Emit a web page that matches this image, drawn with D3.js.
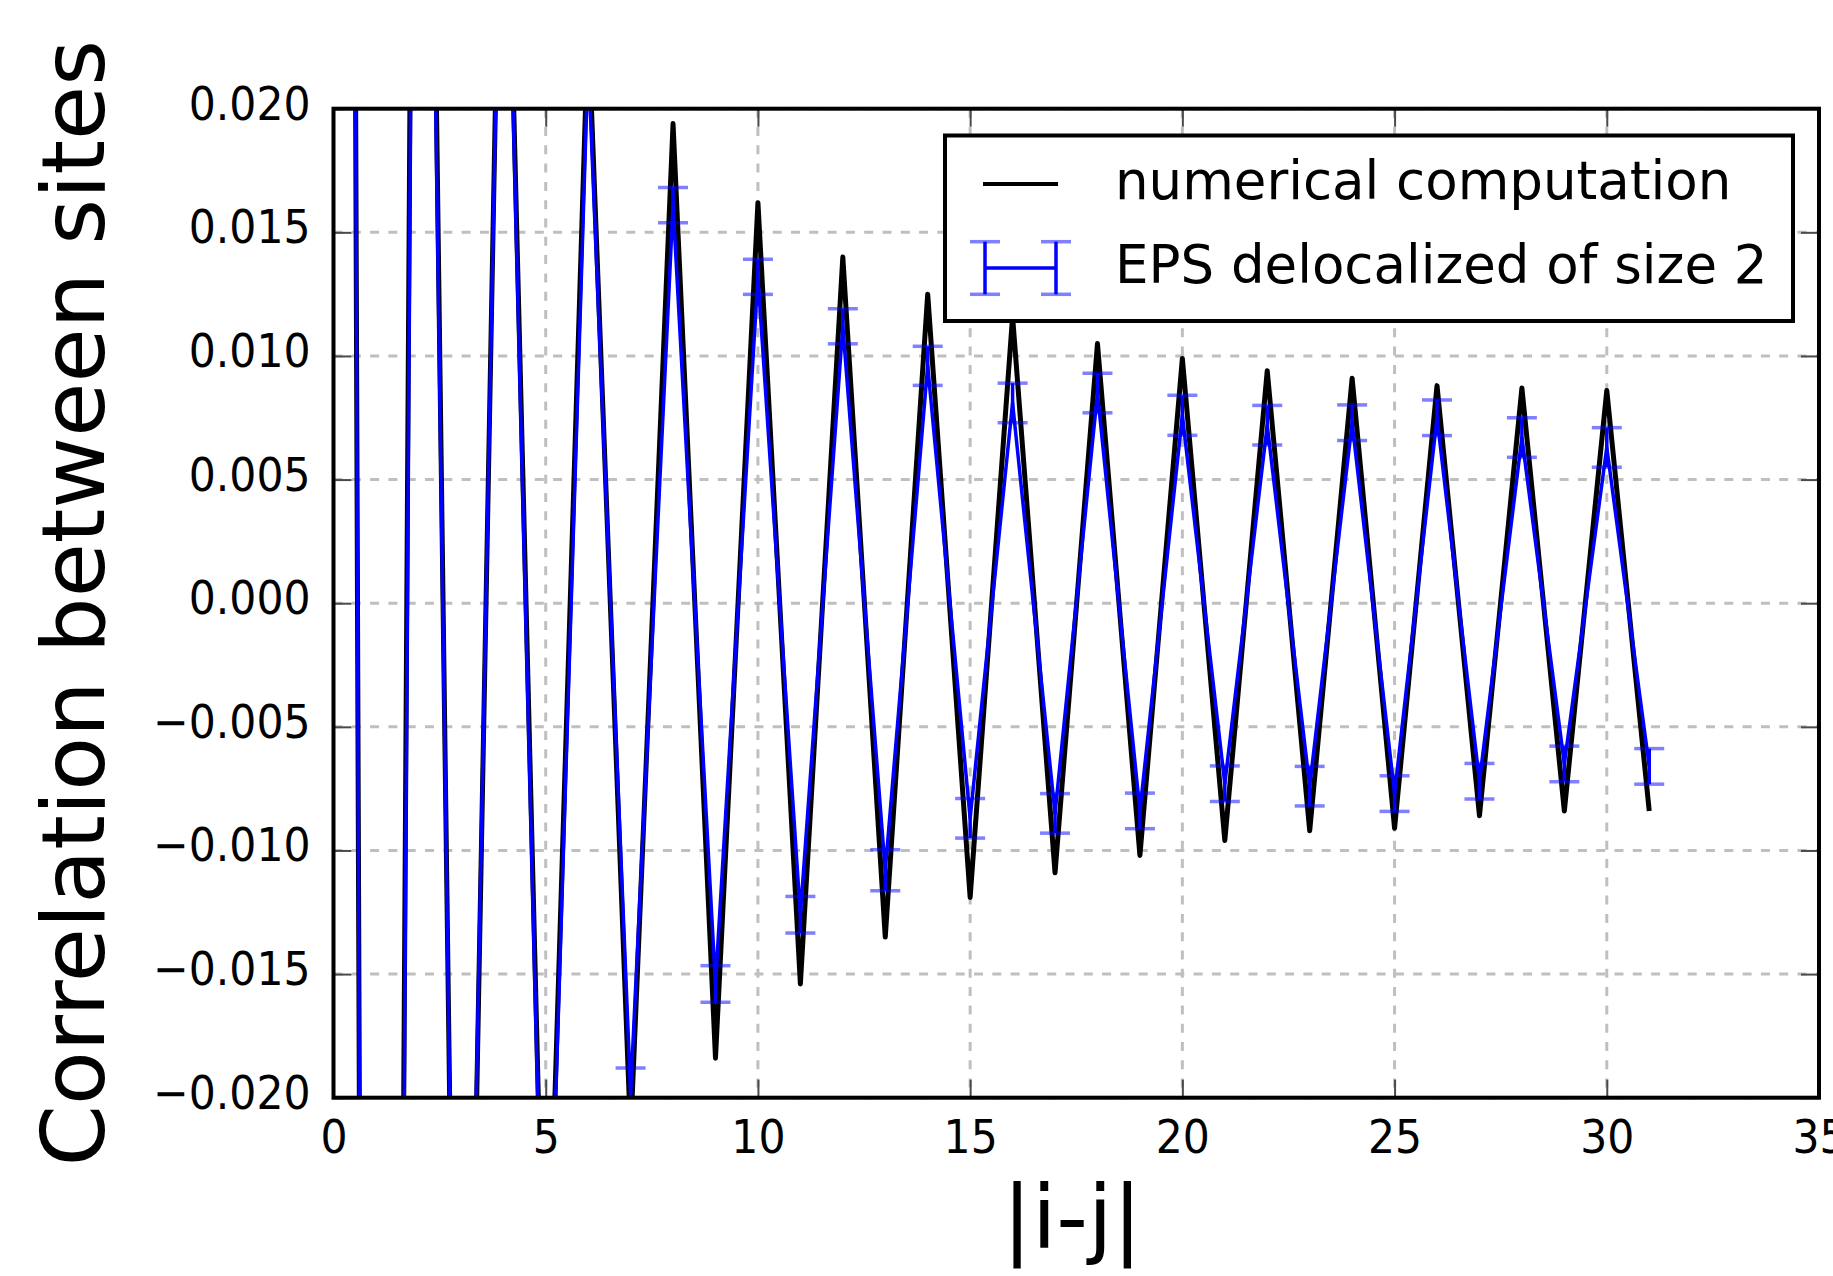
<!DOCTYPE html>
<html>
<head>
<meta charset="utf-8">
<script src="https://cdn.jsdelivr.net/npm/d3@7"></script>
<style>
  html, body { margin: 0; padding: 0; background: #ffffff; }
  svg { display: block; }
  text { font-family: "DejaVu Sans", "Liberation Sans", sans-serif; fill: #000; }
</style>
</head>
<body>
<svg id="chart" width="1833" height="1276"></svg>
<script>
// Site separation |i-j|
const distances = [0, 1, 2, 3, 4, 5, 6, 7, 8, 9, 10, 11, 12, 13, 14, 15,
                   16, 17, 18, 19, 20, 21, 22, 23, 24, 25, 26, 27, 28, 29, 30, 31];

// Exact correlation from the numerical computation
const numerical = [0.26, -0.20, 0.075, -0.054, 0.037, -0.032, 0.0235, -0.0215,
                   0.0194, -0.0184, 0.0162, -0.0154, 0.0140, -0.0135, 0.0125, -0.0119,
                   0.0116, -0.0109, 0.0105, -0.0102, 0.0099, -0.0096, 0.0094, -0.0092,
                   0.0091, -0.0091, 0.0088, -0.0086, 0.0087, -0.0084, 0.0086, -0.0084];

// EPS estimate (delocalized plaquettes of size 2) and its statistical error
const epsMean = [0.26, -0.20, 0.070, -0.052, 0.036, -0.033, 0.022, -0.0198,
                 0.0161, -0.0154, 0.0132, -0.0126, 0.0112, -0.0108, 0.0096, -0.0087,
                 0.0081, -0.0085, 0.0085, -0.0084, 0.0076, -0.0073, 0.0072, -0.0074,
                 0.0073, -0.0077, 0.0075, -0.0072, 0.0067, -0.0065, 0.0063, -0.0066];
const epsError = [0.0008, 0.0008, 0.0008, 0.0008, 0.0008, 0.0008, 0.0008, 0.0010,
                  0.00071, 0.00074, 0.00071, 0.00074, 0.00071, 0.00083, 0.00079, 0.0008,
                  0.0008, 0.0008, 0.0008, 0.00072, 0.00081, 0.00072, 0.0008, 0.0008,
                  0.00072, 0.00072, 0.00072, 0.00072, 0.0008, 0.00072, 0.0008, 0.00072];

// Axis ticks
const xTicks = [0, 5, 10, 15, 20, 25, 30, 35];
const yTicks = [-0.020, -0.015, -0.010, -0.005, 0.000, 0.005, 0.010, 0.015, 0.020];

const seriesLabels = ["numerical computation", "EPS delocalized of size 2"];
const xLabel = "|i-j|";
const yLabel = "Correlation between sites";

const svg = d3.select("#chart");
const plot = { left: 333.5, right: 1819, top: 108.7, bottom: 1097.7 };

const x = d3.scaleLinear().domain([0, 35]).range([plot.left, plot.right]);
const y = d3.scaleLinear().domain([-0.020, 0.020]).range([plot.bottom, plot.top]);

svg.append("defs").append("clipPath").attr("id", "plotClip")
  .append("rect")
  .attr("x", plot.left).attr("y", plot.top)
  .attr("width", plot.right - plot.left).attr("height", plot.bottom - plot.top);

// Dashed grid
const grid = svg.append("g").attr("class", "grid")
  .attr("stroke", "#bfbfbf").attr("stroke-width", 3).attr("stroke-dasharray", "9,9.3");
grid.selectAll("line.gx").data(xTicks).join("line").attr("class", "gx")
  .attr("x1", d => x(d)).attr("x2", d => x(d))
  .attr("y1", plot.top).attr("y2", plot.bottom);
grid.selectAll("line.gy").data(yTicks).join("line").attr("class", "gy")
  .attr("x1", plot.left).attr("x2", plot.right)
  .attr("y1", d => y(d)).attr("y2", d => y(d));

// Data
const dataLayer = svg.append("g").attr("clip-path", "url(#plotClip)");
const numPts = distances.map((d, i) => [d, numerical[i]]);
const epsPts = distances.map((d, i) => ({ k: d, v: epsMean[i], e: epsError[i] }));
const line = d3.line().x(d => x(d[0])).y(d => y(d[1]));

dataLayer.append("path").datum(numPts)
  .attr("d", line).attr("fill", "none")
  .attr("stroke", "#000").attr("stroke-width", 5).attr("stroke-linejoin", "round");

dataLayer.append("path").datum(epsPts.map(p => [p.k, p.v]))
  .attr("d", line).attr("fill", "none")
  .attr("stroke", "#0000ff").attr("stroke-width", 3.5).attr("stroke-linejoin", "round");

const bars = dataLayer.append("g");
bars.selectAll("line.bar").data(epsPts).join("line").attr("class", "bar")
  .attr("x1", d => x(d.k)).attr("x2", d => x(d.k))
  .attr("y1", d => y(d.v - d.e)).attr("y2", d => y(d.v + d.e))
  .attr("stroke", "#0000ff").attr("stroke-width", 3.5);
const capHalf = 15;
["lo", "hi"].forEach(side => {
  bars.selectAll("line.cap-" + side).data(epsPts).join("line").attr("class", "cap-" + side)
    .attr("x1", d => x(d.k) - capHalf).attr("x2", d => x(d.k) + capHalf)
    .attr("y1", d => y(side === "lo" ? d.v - d.e : d.v + d.e))
    .attr("y2", d => y(side === "lo" ? d.v - d.e : d.v + d.e))
    .attr("stroke", "#0000ff").attr("stroke-opacity", 0.5).attr("stroke-width", 3.5);
});

// Axes with inward ticks on all four sides
const tickLen = 18;
function styleAxis(g) {
  g.select(".domain").remove();
  g.selectAll(".tick line").attr("stroke", "#4a4a4a").attr("stroke-width", 2);
  return g;
}
const tickFont = 46.5, tickSqueeze = 0.915;

const gBottom = svg.append("g").attr("transform", `translate(0,${plot.bottom})`)
  .call(d3.axisBottom(x).tickValues(xTicks).tickSize(-tickLen).tickFormat(d3.format("d")));
styleAxis(gBottom);
gBottom.selectAll(".tick text")
  .attr("x", 0).attr("y", 0).attr("dy", null)
  .attr("transform", `translate(0,55.5) scale(${tickSqueeze},1)`)
  .attr("font-size", tickFont).attr("fill", "#000");

const gTop = svg.append("g").attr("transform", `translate(0,${plot.top})`)
  .call(d3.axisTop(x).tickValues(xTicks).tickSize(-tickLen).tickFormat(""));
styleAxis(gTop);

const gLeft = svg.append("g").attr("transform", `translate(${plot.left},0)`)
  .call(d3.axisLeft(y).tickValues(yTicks).tickSize(-tickLen).tickFormat(d3.format(".3f")));
styleAxis(gLeft);
gLeft.selectAll(".tick text")
  .attr("x", 0).attr("y", 0).attr("dy", null)
  .attr("transform", `translate(-23,10.5) scale(${tickSqueeze},1)`)
  .attr("text-anchor", "end")
  .attr("font-size", tickFont).attr("fill", "#000");

const gRight = svg.append("g").attr("transform", `translate(${plot.right},0)`)
  .call(d3.axisRight(y).tickValues(yTicks).tickSize(-tickLen).tickFormat(""));
styleAxis(gRight);

svg.selectAll(".tick text").attr("font-family", "'DejaVu Sans', sans-serif");

// Frame
svg.append("rect")
  .attr("x", plot.left).attr("y", plot.top)
  .attr("width", plot.right - plot.left).attr("height", plot.bottom - plot.top)
  .attr("fill", "none").attr("stroke", "#000").attr("stroke-width", 4);

// Axis titles
svg.append("text")
  .attr("transform", `translate(104,${(plot.top + plot.bottom) / 2}) rotate(-90)`)
  .attr("text-anchor", "middle")
  .attr("font-size", 88)
  .text(yLabel);

svg.append("text")
  .attr("x", (plot.left + plot.right) / 2 - 4).attr("y", 1247)
  .attr("text-anchor", "middle")
  .attr("font-size", 88)
  .text(xLabel);

// Legend
const legend = svg.append("g");
legend.append("rect")
  .attr("x", 945).attr("y", 135.5).attr("width", 848).attr("height", 185.5)
  .attr("fill", "#fff").attr("stroke", "#000").attr("stroke-width", 4);

legend.append("line")
  .attr("x1", 983).attr("x2", 1058).attr("y1", 184).attr("y2", 184)
  .attr("stroke", "#000").attr("stroke-width", 4);

const lgY = 268, lgHalf = 26.3, lgX0 = 985, lgX1 = 1056;
legend.append("line")
  .attr("x1", lgX0).attr("x2", lgX1).attr("y1", lgY).attr("y2", lgY)
  .attr("stroke", "#0000ff").attr("stroke-width", 3.5);
[lgX0, lgX1].forEach(cx => {
  legend.append("line")
    .attr("x1", cx).attr("x2", cx).attr("y1", lgY - lgHalf).attr("y2", lgY + lgHalf)
    .attr("stroke", "#0000ff").attr("stroke-width", 3.5);
  [lgY - lgHalf, lgY + lgHalf].forEach(cy => {
    legend.append("line")
      .attr("x1", cx - capHalf).attr("x2", cx + capHalf).attr("y1", cy).attr("y2", cy)
      .attr("stroke", "#0000ff").attr("stroke-opacity", 0.5).attr("stroke-width", 3.5);
  });
});

legend.selectAll("text.lg").data(seriesLabels).join("text").attr("class", "lg")
  .attr("x", 1115)
  .attr("y", (d, i) => [199, 283][i])
  .attr("font-size", 53)
  .text(d => d);
</script>
</body>
</html>
